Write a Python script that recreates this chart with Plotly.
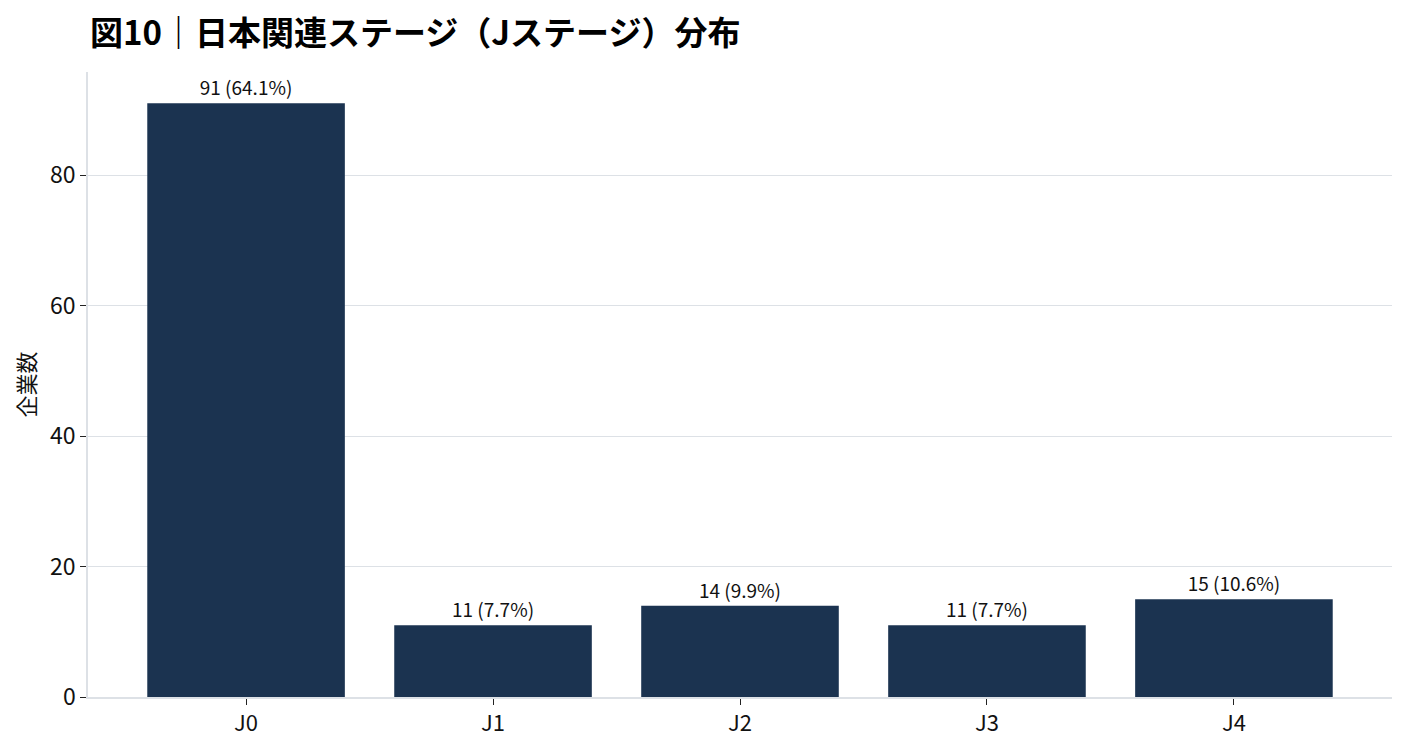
import plotly.graph_objects as go

stages = ["J0", "J1", "J2", "J3", "J4"]
counts = [91, 11, 14, 11, 15]
shares = [64.1, 7.7, 9.9, 7.7, 10.6]

labels = [f"{c} ({s}%)" for c, s in zip(counts, shares)]

FONT = "Noto Sans CJK JP"

fig = go.Figure()
fig.add_trace(
    go.Bar(
        x=stages,
        y=counts,
        text=labels,
        textposition="outside",
        textfont=dict(size=19, color="#111111"),
        cliponaxis=False,
        marker=dict(color="#1b3350", line=dict(width=0)),
        width=0.8,
    )
)

# page body has an 8px margin, so the figure is sized to fit inside it
fig.update_layout(
    title=dict(
        text="<b>図10｜日本関連ステージ（Jステージ）分布</b>",
        x=0.059,
        xanchor="left",
        y=0.966,
        yanchor="middle",
        font=dict(size=33, color="#000000", family=FONT),
    ),
    font=dict(family=FONT, size=20, color="#111111"),
    plot_bgcolor="white",
    paper_bgcolor="white",
    showlegend=False,
    width=1391,
    height=736,
    margin=dict(l=80, r=7, t=64, b=47),
    xaxis=dict(
        range=[-0.64, 4.64],
        showline=True,
        linecolor="#dde1e6",
        linewidth=1.5,
        ticks="outside",
        tickcolor="#222222",
        ticklen=6,
        showgrid=False,
        tickfont=dict(size=22),
    ),
    yaxis=dict(
        title=dict(text="企業数", font=dict(size=22), standoff=8),
        range=[0, 95.8],
        tickvals=[0, 20, 40, 60, 80],
        showline=True,
        linecolor="#dde1e6",
        linewidth=1.5,
        ticks="outside",
        tickcolor="#222222",
        ticklen=6,
        showgrid=True,
        gridcolor="rgba(118,135,155,0.25)",
        gridwidth=1.3,
        zeroline=False,
        layer="above traces",
        tickfont=dict(size=23),
    ),
)

fig.write_html("out.html")
